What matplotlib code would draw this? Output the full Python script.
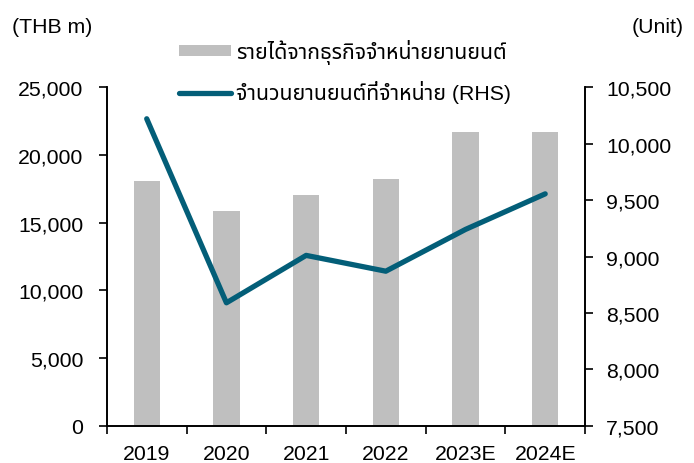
import numpy as np
import matplotlib
matplotlib.use("Agg")
import matplotlib.pyplot as plt
from matplotlib.ticker import FuncFormatter

# data
years = ["2019", "2020", "2021", "2022", "2023E", "2024E"]
revenue = [18050, 15870, 17020, 18200, 21700, 21700]      # THB m (LHS)
units_sold = [10220, 8590, 9010, 8870, 9240, 9555]        # unit (RHS)

rev_label = "รายได้จากธุรกิจจำหน่ายยานยนต์"
unit_label = "จำนวนยานยนต์ที่จำหน่าย (RHS)"

plt.rcParams["font.family"] = ["Liberation Sans", "Noto Sans Thai", "DejaVu Sans"]
plt.rcParams["font.size"] = 15.3

fig = plt.figure(figsize=(6.94, 4.64), dpi=100)
ax = fig.add_axes([0.154, 0.080, 0.689, 0.730])
ax2 = ax.twinx()

x = np.arange(len(years))
ax.bar(x, revenue, width=0.33, color="#BFBFBF", label=rev_label, zorder=2)
ax2.plot(x, units_sold, color="#035E78", lw=3.8, solid_capstyle="round",
         label=unit_label, zorder=3)

ax.set_xlim(-0.5, len(years) - 0.5)
ax.set_ylim(0, 25000)
ax.set_yticks(np.arange(0, 25001, 5000))
ax2.set_ylim(7500, 10500)
ax2.set_yticks(np.arange(7500, 10501, 500))

fmt = FuncFormatter(lambda v, p: f"{v:,.0f}")
ax.yaxis.set_major_formatter(fmt)
ax2.yaxis.set_major_formatter(fmt)

# category labels centred, tick marks on boundaries
ax.set_xticks(x)
ax.set_xticklabels(years)
ax.tick_params(axis="x", length=0, pad=13)
ax.set_xticks(np.arange(-0.5, len(years), 1), minor=True)
ax.tick_params(axis="x", which="minor", length=6, width=1.2, direction="out")

ax.tick_params(axis="y", length=6, width=1.2, direction="out", pad=11)
ax2.tick_params(axis="y", length=6, width=1.2, direction="out", pad=9)

for a in (ax, ax2):
    a.spines["top"].set_visible(False)
    for s in ("left", "right", "bottom"):
        a.spines[s].set_linewidth(1.2)

fig.text(0.018, 0.94, "(THB m)", ha="left", va="center")
fig.text(0.985, 0.94, "(Unit)", ha="right", va="center")

h1, l1 = ax.get_legend_handles_labels()
h2, l2 = ax2.get_legend_handles_labels()
fig.legend(h1 + h2, l1 + l2, loc="upper left", bbox_to_anchor=(0.258, 0.913),
           frameon=False, handlelength=2.45, handletextpad=0.25,
           handleheight=0.4, labelspacing=0.75, borderpad=0,
           borderaxespad=0, fontsize=15.3)

fig.savefig("out.png", dpi=100)
